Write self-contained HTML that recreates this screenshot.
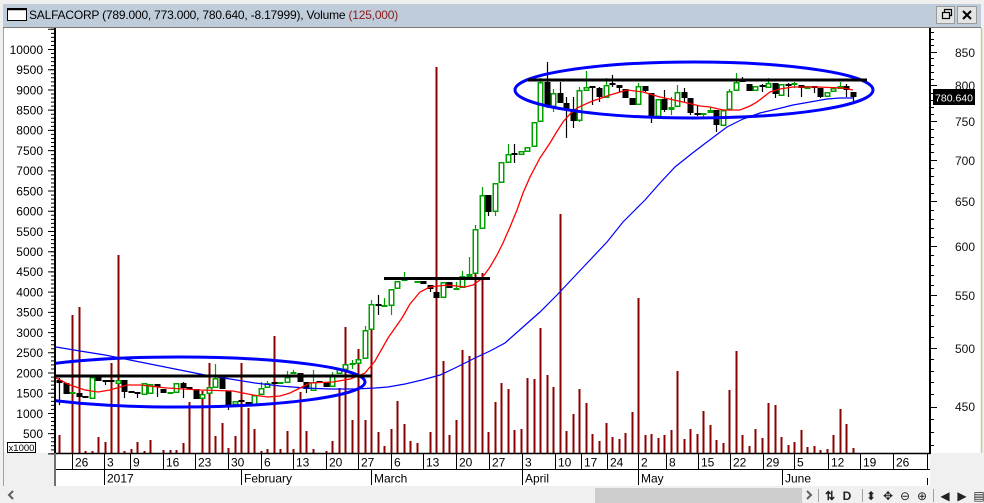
<!DOCTYPE html>
<html><head><meta charset="utf-8"><style>
html,body{margin:0;padding:0;background:#f0f0f0;width:984px;height:503px;overflow:hidden}
svg{display:block}
text{font-family:"Liberation Sans",Arial,sans-serif}
.k{fill:#000}
.g{fill:#fff;stroke:#00a000;stroke-width:1.5}
.gf{fill:#00a000}
</style></head><body>
<svg width="984" height="503" viewBox="0 0 984 503" xmlns="http://www.w3.org/2000/svg">
<defs><clipPath id="pc"><rect x="56" y="28" width="873" height="425"/></clipPath>
<clipPath id="dc"><rect x="56" y="453" width="873" height="33"/></clipPath></defs>
<!-- title bar -->
<rect x="0" y="0" width="984" height="503" fill="#f0f0f0"/>
<rect x="3" y="4" width="978" height="23" fill="#bfcddb"/>
<line x1="3" y1="27.5" x2="981" y2="27.5" stroke="#7a7a7a" stroke-width="1"/>
<rect x="7.5" y="8.5" width="19" height="12" fill="#fff" stroke="#000" stroke-width="1"/>
<line x1="7.5" y1="9.5" x2="26.5" y2="9.5" stroke="#000" stroke-width="1.5"/>
<text x="29" y="19" font-size="12" letter-spacing="-0.2" fill="#000">SALFACORP (789.000, 773.000, 780.640, -8.17999), Volume <tspan fill="#8b1a1a">(125,000)</tspan></text>
<rect x="936.5" y="6.5" width="18" height="17" fill="#e4e4e4" stroke="#9a9a9a"/>
<rect x="942.5" y="12.5" width="7" height="6" fill="none" stroke="#000" stroke-width="1.2"/>
<path d="M944.5 12.5 V9.5 H951.5 V15.5 H949.5" fill="none" stroke="#000" stroke-width="1.2"/>
<rect x="957.5" y="6.5" width="19" height="17" fill="#e4e4e4" stroke="#9a9a9a"/>
<path d="M963 11 L971 19 M971 11 L963 19" stroke="#000" stroke-width="2"/>
<!-- main white area -->
<rect x="4" y="28" width="977" height="425" fill="#fff"/>
<line x1="3.5" y1="28" x2="3.5" y2="486" stroke="#a0a0a0"/>
<line x1="981.5" y1="28" x2="981.5" y2="453" stroke="#b8d090" stroke-width="1.5"/>
<!-- plot content -->
<g clip-path="url(#pc)">
<g transform="translate(0.5,0)">
<path stroke="#8b0000" stroke-width="2" fill="none" d="M59 453V435M72 453V315M79 453V307M85 453V451M92 453V451M98 453V437M105 453V442M111 453V363M118 453V255M124 453V451M131 453V449M137 453V442M144 453V451M150 453V440M163 453V450M170 453V450M176 453V450M183 453V443M189 453V402M202 453V391M209 453V363M215 453V436M222 453V423M228 453V448M235 453V436M241 453V363M248 453V408M254 453V429M261 453V451M267 453V449M274 453V336M280 453V449M287 453V431M293 453V449M300 453V392M306 453V431M313 453V449M326 453V451M332 453V441M339 453V388M345 453V327M352 453V420M358 453V349M365 453V420M371 453V323M378 453V432M384 453V446M391 453V429M397 453V401M404 453V424M410 453V441M417 453V443M430 453V432M436 453V67M443 453V361M449 453V435M456 453V420M462 453V350M469 453V356M475 453V273M482 453V273M488 453V432M495 453V402M501 453V383M508 453V389M514 453V430M521 453V429M527 453V378M534 453V379M540 453V328M547 453V375M553 453V387M560 453V214M566 453V431M573 453V414M579 453V389M586 453V403M592 453V434M599 453V441M606 453V423M612 453V437M619 453V439M625 453V433M632 453V412M638 453V298M645 453V435M651 453V434M658 453V438M664 453V435M671 453V430M677 453V371M684 453V439M690 453V429M697 453V434M703 453V411M710 453V425M716 453V440M723 453V443M729 453V390M736 453V351M742 453V435M749 453V446M755 453V429M762 453V438M768 453V403M775 453V405M781 453V437M788 453V445M794 453V442M801 453V430M807 453V447M814 453V446M820 453V450M827 453V449M833 453V435M840 453V409M846 453V424M853 453V448"/>
<!-- wicks -->
<path stroke="#000" stroke-width="1.2" fill="none" d="M59 378V405M105 380V385M124 380V398M137 392V398M157 384V397M183 382V398M228 391V410M306 382V393M378 295V315M430 285V292M488 195V216M514 144V163M547 62V108M560 82V103M566 97V138M573 97V128M592 86V105M599 87V102M612 75V87M619 85V92M645 86V92M651 93V123M664 90V112M684 88V102M690 98V115M697 105V116M716 110V132M742 77V82M762 84V92M775 83V98M788 83V97M801 85V97M814 86V93M820 88V98M846 84V97M853 92V102"/>
<path stroke="#00a000" stroke-width="1.2" fill="none" d="M92 376V399M209 385V394M215 364V388M261 382V395M267 381V388M287 371V383M293 370V374M313 370V391M332 372V387M352 360V369M365 326V359M371 300V330M384 298V307M391 289V315M404 272V281M456 282V290M462 271V288M469 257V277M475 225V274M482 187V229M495 183V216M508 144V163M540 78V122M553 89V112M579 87V122M586 71V91M606 78V98M638 83V105M671 97V115M677 85V107M703 113V118M710 107V113M729 89V110M736 73V91M768 78V88M794 82V88M840 82V89"/>
<!-- black bodies -->
<g class="k">
<rect x="56" y="380" width="6" height="3"/><rect x="63" y="383" width="6" height="11"/><rect x="76" y="393" width="6" height="4"/><rect x="82" y="396" width="6" height="2"/><rect x="95" y="376" width="6" height="5"/><rect x="102" y="380" width="6" height="2"/><rect x="108" y="380" width="6" height="2"/><rect x="121" y="380" width="6" height="12"/><rect x="128" y="391" width="6" height="2"/><rect x="134" y="392" width="6" height="2"/><rect x="154" y="384" width="6" height="3"/><rect x="160" y="389" width="6" height="4"/><rect x="180" y="383" width="6" height="5"/><rect x="186" y="387" width="6" height="2"/><rect x="193" y="389" width="6" height="10"/><rect x="219" y="378" width="6" height="11"/><rect x="225" y="391" width="6" height="15"/><rect x="238" y="400" width="6" height="2"/><rect x="245" y="402" width="6" height="3"/><rect x="271" y="382" width="6" height="2"/><rect x="297" y="373" width="6" height="9"/><rect x="303" y="382" width="6" height="7"/><rect x="316" y="381" width="6" height="2"/><rect x="323" y="382" width="6" height="5"/><rect x="375" y="304" width="6" height="2"/><rect x="407" y="278" width="6" height="2"/><rect x="420" y="281" width="6" height="3"/><rect x="427" y="285" width="6" height="4"/><rect x="433" y="292" width="6" height="6"/><rect x="446" y="282" width="6" height="6"/><rect x="485" y="195" width="6" height="17"/><rect x="511" y="153" width="6" height="2"/><rect x="544" y="82" width="6" height="23"/><rect x="557" y="93" width="6" height="10"/><rect x="563" y="103" width="6" height="6"/><rect x="570" y="109" width="6" height="12"/><rect x="589" y="86" width="6" height="2"/><rect x="596" y="88" width="6" height="9"/><rect x="609" y="83" width="6" height="2"/><rect x="616" y="85" width="6" height="3"/><rect x="622" y="89" width="6" height="9"/><rect x="629" y="98" width="6" height="7"/><rect x="642" y="86" width="6" height="5"/><rect x="648" y="93" width="6" height="24"/><rect x="661" y="99" width="6" height="11"/><rect x="681" y="92" width="6" height="6"/><rect x="687" y="98" width="6" height="15"/><rect x="694" y="113" width="6" height="2"/><rect x="713" y="110" width="6" height="15"/><rect x="739" y="80" width="6" height="2"/><rect x="746" y="84" width="6" height="7"/><rect x="759" y="85" width="6" height="2"/><rect x="772" y="83" width="6" height="11"/><rect x="785" y="84" width="6" height="2"/><rect x="798" y="85" width="6" height="3"/><rect x="811" y="86" width="6" height="2"/><rect x="817" y="88" width="6" height="9"/><rect x="843" y="86" width="6" height="4"/><rect x="850" y="92" width="6" height="5"/>
</g>
<!-- green hollow bodies -->
<g class="g">
<rect x="89.75" y="377.75" width="4.5" height="20.5"/><rect x="115.75" y="380.75" width="4.5" height="2.5"/><rect x="141.75" y="383.75" width="4.5" height="10.5"/><rect x="147.75" y="384.75" width="4.5" height="8.5"/><rect x="173.75" y="383.75" width="4.5" height="8.5"/><rect x="199.75" y="394.75" width="4.5" height="3.5"/><rect x="206.75" y="387.75" width="4.5" height="5.5"/><rect x="212.75" y="378.75" width="4.5" height="8.5"/><rect x="232.75" y="401.75" width="4.5" height="2.5"/><rect x="251.75" y="395.75" width="4.5" height="8.5"/><rect x="258.75" y="388.75" width="4.5" height="5.5"/><rect x="264.75" y="383.75" width="4.5" height="3.5"/><rect x="284.75" y="377.75" width="4.5" height="4.5"/><rect x="310.75" y="382.75" width="4.5" height="7.5"/><rect x="329.75" y="376.75" width="4.5" height="9.5"/><rect x="336.75" y="369.75" width="4.5" height="3.5"/><rect x="342.75" y="364.75" width="4.5" height="4.5"/><rect x="355.75" y="359.75" width="4.5" height="3.5"/><rect x="362.75" y="330.75" width="4.5" height="27.5"/><rect x="368.75" y="304.75" width="4.5" height="24.5"/><rect x="388.75" y="289.75" width="4.5" height="15.5"/><rect x="394.75" y="281.75" width="4.5" height="6.5"/><rect x="401.75" y="278.75" width="4.5" height="1.5"/><rect x="440.75" y="282.75" width="4.5" height="14.5"/><rect x="459.75" y="276.75" width="4.5" height="10.5"/><rect x="466.75" y="274.75" width="4.5" height="1.5"/><rect x="472.75" y="229.75" width="4.5" height="43.5"/><rect x="479.75" y="195.75" width="4.5" height="32.5"/><rect x="492.75" y="183.75" width="4.5" height="27.5"/><rect x="498.75" y="162.75" width="4.5" height="19.5"/><rect x="505.75" y="154.75" width="4.5" height="7.5"/><rect x="518.75" y="151.75" width="4.5" height="2.5"/><rect x="524.75" y="147.75" width="4.5" height="3.5"/><rect x="531.75" y="122.75" width="4.5" height="23.5"/><rect x="537.75" y="82.75" width="4.5" height="38.5"/><rect x="550.75" y="93.75" width="4.5" height="12.5"/><rect x="576.75" y="90.75" width="4.5" height="29.5"/><rect x="583.75" y="87.75" width="4.5" height="2.5"/><rect x="603.75" y="85.75" width="4.5" height="11.5"/><rect x="635.75" y="86.75" width="4.5" height="17.5"/><rect x="655.75" y="99.75" width="4.5" height="16.5"/><rect x="668.75" y="107.75" width="4.5" height="1.5"/><rect x="674.75" y="92.75" width="4.5" height="13.5"/><rect x="707.75" y="110.75" width="4.5" height="1.5"/><rect x="720.75" y="110.75" width="4.5" height="14.5"/><rect x="726.75" y="91.75" width="4.5" height="17.5"/><rect x="733.75" y="82.75" width="4.5" height="7.5"/><rect x="752.75" y="86.75" width="4.5" height="3.5"/><rect x="765.75" y="83.75" width="4.5" height="3.5"/><rect x="778.75" y="84.75" width="4.5" height="10.5"/><rect x="804.75" y="86.75" width="4.5" height="1.5"/><rect x="824.75" y="92.75" width="4.5" height="3.5"/><rect x="830.75" y="88.75" width="4.5" height="2.5"/><rect x="837.75" y="86.75" width="4.5" height="1.5"/>
</g>
<g class="gf">
<rect x="69" y="392" width="6" height="2"/><rect x="167" y="392" width="6" height="2"/><rect x="277" y="382" width="6" height="2"/><rect x="290" y="372" width="6" height="2"/><rect x="349" y="363" width="6" height="2"/><rect x="381" y="305" width="6" height="2"/><rect x="414" y="281" width="6" height="2"/><rect x="453" y="288" width="6" height="2"/><rect x="700" y="113" width="6" height="2"/><rect x="791" y="83" width="6" height="2"/>
</g>
</g>
<!-- moving averages -->
<polyline fill="none" stroke="#0000ff" stroke-width="1.2" points="56,347 80,351 105,355 130,360 155,365 180,370 205,375 230,379 255,383 280,386 305,388 330,389 355,389 375,388 388,387 405,384 422,380 440,375 455,368 475,358 490,351 505,343 523,327 540,312 557,295 573,278 590,260 607,242 623,222 635,210 645,200 660,183 675,167 690,155 703,145 715,136 727,127 743,119 760,113 777,109 793,105 810,102 827,99 840,98 853,98"/>
<polyline fill="none" stroke="#ff0000" stroke-width="1.3" points="56,378 70,385 85,390 98,392 110,390 127,385 140,385 167,388 200,390 233,391 253,395 268,397 280,396 290,393 300,388 310,383 333,382 350,379 358,376 365,373 375,361 388,338 402,318 410,304 420,292 430,287 447,285 465,287 473,285 480,280 485,274 490,267 497,255 503,243 510,227 517,210 523,193 530,177 540,158 550,143 556,133 563,122 570,114 577,108 590,102 610,95 627,90 643,92 660,97 683,102 700,106 710,107 723,110 740,110 750,106 757,102 770,92 780,89 793,87 817,87 843,88 853,90"/>
<!-- annotations -->
<ellipse cx="179" cy="382" rx="186" ry="25" fill="none" stroke="#0000ff" stroke-width="3"/>
<ellipse cx="694" cy="90" rx="179" ry="28" fill="none" stroke="#0000ff" stroke-width="3"/>
<path d="M56 376H372M384 278.5H490M528 80H867" stroke="#000" stroke-width="3" fill="none"/>
</g>
<!-- left axis -->
<line x1="55" y1="28" x2="55" y2="454" stroke="#000" stroke-width="2"/>
<path d="M53 454.4V28" stroke="#000" stroke-width="4" stroke-dasharray="1 3.044" fill="none"/>
<path d="M51.5 454.4V28" stroke="#000" stroke-width="7" stroke-dasharray="1 19.22" fill="none"/>
<g font-size="12" text-anchor="end" fill="#000">
<text x="43" y="438">500</text><text x="43" y="417.8">1000</text><text x="43" y="397.5">1500</text><text x="43" y="377.3">2000</text><text x="43" y="357.1">2500</text><text x="43" y="336.9">3000</text><text x="43" y="316.7">3500</text><text x="43" y="296.4">4000</text><text x="43" y="276.2">4500</text><text x="43" y="256">5000</text><text x="43" y="235.8">5500</text><text x="43" y="215.6">6000</text><text x="43" y="195.3">6500</text><text x="43" y="175.1">7000</text><text x="43" y="154.9">7500</text><text x="43" y="134.7">8000</text><text x="43" y="114.5">8500</text><text x="43" y="94.3">9000</text><text x="43" y="74">9500</text><text x="43" y="53.8">10000</text>
</g>
<rect x="7.5" y="442.5" width="28" height="10" fill="#fff" stroke="#000"/>
<text x="21.5" y="451" font-size="9.5" text-anchor="middle" fill="#000">x1000</text>
<!-- right axis -->
<line x1="930" y1="28" x2="930" y2="454" stroke="#000" stroke-width="2"/>
<path stroke="#000" stroke-width="1" fill="none" d="M930 445.5H934M930 432.5H934M930 419.5H934M930 394.5H934M930 382.5H934M930 371.5H934M930 359.5H934M930 337.5H934M930 326.5H934M930 315.5H934M930 305.5H934M930 285.5H934M930 275.5H934M930 265.5H934M930 255.5H934M930 237.5H934M930 228.5H934M930 219.5H934M930 210.5H934M930 193.5H934M930 184.5H934M930 176.5H934M930 168.5H934M930 152.5H934M930 144.5H934M930 137.5H934M930 129.5H934M930 114.5H934M930 107.5H934M930 100.5H934M930 93.5H934M930 79.5H934M930 72.5H934M930 65.5H934M930 58.5H934M930 45.5H934M930 39.5H934M930 32.5H934 M930 407.5H937M930 348.5H937M930 295.5H937M930 246.5H937M930 201.5H937M930 160.5H937M930 121.5H937M930 85.5H937M930 52.5H937"/>
<g font-size="12" fill="#111">
<text x="955" y="57">850</text><text x="955" y="90">800</text><text x="955" y="126">750</text><text x="955" y="165">700</text><text x="955" y="206">650</text><text x="955" y="251">600</text><text x="955" y="300">550</text><text x="955" y="353">500</text><text x="955" y="411">450</text>
</g>
<rect x="933" y="89" width="42" height="16" fill="#000"/>
<text x="954" y="101.5" font-size="10.5" text-anchor="middle" fill="#fff">780.640</text>
<!-- date axis -->
<rect x="55" y="453" width="875" height="33" fill="#fff"/>
<line x1="55" y1="453.5" x2="930" y2="453.5" stroke="#000" stroke-width="1.5"/>
<line x1="55" y1="469.5" x2="930" y2="469.5" stroke="#000" stroke-width="1"/>
<line x1="55" y1="453" x2="55" y2="486" stroke="#707070" stroke-width="2"/>
<path stroke="#000" stroke-width="1" fill="none" d="M72.5 454V469M104.5 454V469M130.5 454V469M163.5 454V469M195.5 454V469M228.5 454V469M261.5 454V469M293.5 454V469M326.5 454V469M358.5 454V469M391.5 454V469M423.5 454V469M456.5 454V469M489.5 454V469M522.5 454V469M555.5 454V469M581.5 454V469M607.5 454V469M638.5 454V469M666.5 454V469M698.5 454V469M730.5 454V469M763.5 454V469M794.5 454V469M828.5 454V469M860.5 454V469M893.5 454V469M927.5 454V469 M104.5 470V485M241.5 470V485M371.5 470V485M522.5 470V485M638.5 470V485M782.5 470V485M927.5 478V485"/>
<g font-size="12" fill="#000" clip-path="url(#dc)">
<text x="75" y="466.5">26</text><text x="107" y="466.5">3</text><text x="133" y="466.5">9</text><text x="166" y="466.5">16</text><text x="198" y="466.5">23</text><text x="231" y="466.5">30</text><text x="264" y="466.5">6</text><text x="296" y="466.5">13</text><text x="329" y="466.5">20</text><text x="361" y="466.5">27</text><text x="394" y="466.5">6</text><text x="426" y="466.5">13</text><text x="459" y="466.5">20</text><text x="492" y="466.5">27</text><text x="525" y="466.5">3</text><text x="558" y="466.5">10</text><text x="584" y="466.5">17</text><text x="610" y="466.5">24</text><text x="641" y="466.5">2</text><text x="669" y="466.5">8</text><text x="701" y="466.5">15</text><text x="733" y="466.5">22</text><text x="766" y="466.5">29</text><text x="797" y="466.5">5</text><text x="831" y="466.5">12</text><text x="863" y="466.5">19</text><text x="896" y="466.5">26</text><text x="930" y="466.5">3</text>
<text x="107" y="482.5">2017</text><text x="244" y="482.5">February</text><text x="374" y="482.5">March</text><text x="525" y="482.5">April</text><text x="641" y="482.5">May</text><text x="785" y="482.5">June</text>
</g>
<!-- scroll bar row -->
<path d="M13 491L9 495L13 499" fill="none" stroke="#606060" stroke-width="2"/>
<rect x="595" y="488" width="207" height="15" fill="#cdcdcd"/>
<path d="M807 491L811 495L807 499" fill="none" stroke="#606060" stroke-width="2"/>
<path d="M818.5 489V502M862.5 489V502M933.5 489V502" stroke="#a0a0a0" stroke-width="1"/>
<g font-family="DejaVu Sans,sans-serif" font-size="12" fill="#222" text-anchor="middle">
<text x="830" y="500" font-weight="bold">⇅</text>
<text x="847" y="500" font-family="Liberation Serif,serif" font-weight="bold">D</text>
<text x="871" y="500">⬍</text>
<text x="888" y="500">✥</text>
<text x="905" y="500">⊖</text>
<text x="922" y="500">⊕</text>
<text x="945" y="500">◀</text>
<text x="962" y="500">▶</text>
<text x="979" y="500">▤</text>
</g>
</svg>
</body></html>
